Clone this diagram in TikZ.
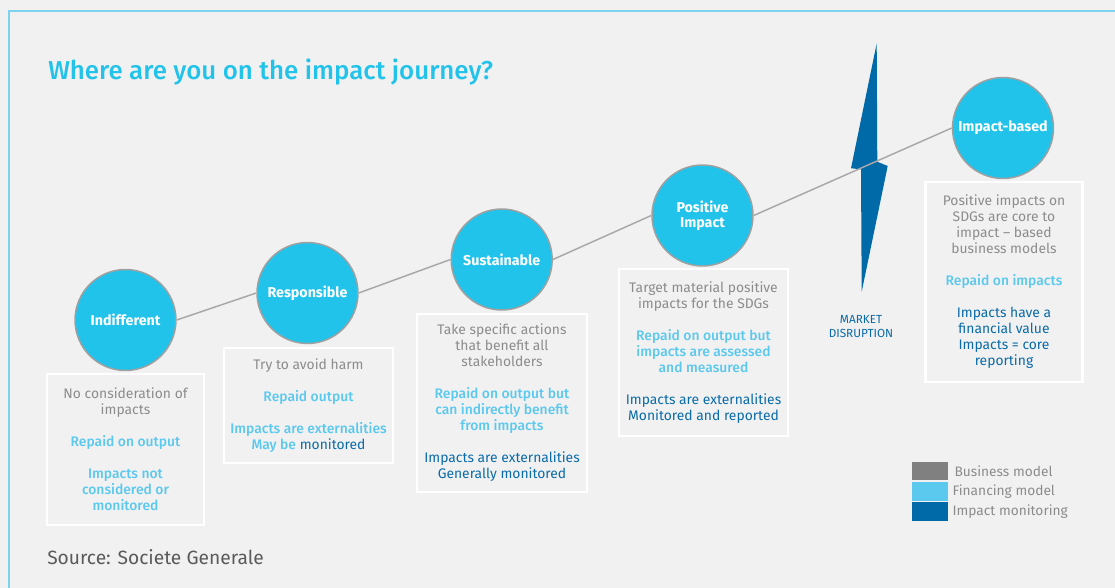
\documentclass[tikz,border=0pt]{standalone}
\usepackage{fontspec}
\setmainfont{Fira Sans}
\newfontfamily\medfont{Fira Sans Medium}
\usetikzlibrary{positioning,shapes.geometric}
\definecolor{bgcol}{HTML}{F1F1F1}
\definecolor{framecol}{HTML}{7DD3EE}
\definecolor{stagecol}{HTML}{22C3EA}
\definecolor{ringcol}{HTML}{A0A0A0}
\definecolor{linecol}{HTML}{A8A8A8}
\definecolor{bizcol}{HTML}{8C8C8C}
\definecolor{fincol}{HTML}{5BC8EE}
\definecolor{moncol}{HTML}{0A6BA8}
\definecolor{boltcol}{HTML}{006AA8}
\definecolor{srccol}{HTML}{5A5A5A}
\newcommand{\finc}[1]{\textcolor{fincol}{\medfont #1}}
\newcommand{\monc}[1]{\textcolor{moncol}{#1}}
\tikzstyle{stage} = [circle, minimum size=75.75pt, inner sep=0pt, draw=ringcol, line width=1.1pt, fill=stagecol, text=white, font=\fontsize{10.7}{11}\selectfont\bfseries, align=center]
\tikzstyle{infobox} = [rectangle, draw=white, line width=2pt, inner sep=0pt, text=bizcol, font=\fontsize{10.4}{12}\selectfont, align=center]
\tikzstyle{journey} = [draw=linecol, line width=1.1pt]
\tikzstyle{swatch} = [rectangle, minimum width=27pt, minimum height=14pt, inner sep=0pt]
\tikzstyle{legendtext} = [anchor=west, inner sep=0pt, text=bizcol, font=\fontsize{10.3}{11}\selectfont]
\begin{document}
\begin{tikzpicture}[x=0.75pt, y=-0.75pt]
\fill[bgcol] (0,0) rectangle (1115,588);
\useasboundingbox (0,0) rectangle (1115,588);
\draw[framecol, line width=1.2pt] (9,588) -- (9,11) -- (1115,11);

\node (title) [anchor=west, inner sep=0pt, text=stagecol, font=\fontsize{19.4}{20}\selectfont\medfont] at (48,72) {Where are you on the impact journey?};

% market disruption
\fill[boltcol] (876.7,43.3) -- (877.3,161.7) -- (887.7,166) -- (861.7,291.7) -- (861,169.3) -- (851,168.3) -- cycle;
\node (disrupt) [text=moncol, align=center, font=\fontsize{8.8}{11}\selectfont] at (861,326.5) {MARKET\\DISRUPTION};

\node (indiff) [stage] at (125.5,320) {Indifferent};
\node (resp) [stage] at (307.5,293) {Responsible};
\node (sust) [stage] at (501.7,259.5) {Sustainable};
\node (posit) [stage] at (702.5,215.5) {Positive\\Impact};
\node (based) [stage] at (1003,128) {Impact-based};

\draw [journey] (indiff.east) -- (resp.west);
\draw [journey] (resp.east) -- (sust.west);
\draw [journey] (sust.east) -- (posit.west);
\draw [journey] (posit.east) -- (based.west);

\node (box1) [infobox, minimum width=117.75pt, minimum height=113.25pt] at (125.5,449.5) {No consideration of\\impacts\\[12pt]\finc{Repaid on output}\\[12pt]\finc{Impacts not}\\\finc{considered or}\\\finc{monitored}};
\node (box2) [infobox, minimum width=126.75pt, minimum height=86.25pt] at (308.5,405.5) {Try to avoid harm\\[12pt]\finc{Repaid output}\\[12pt]\finc{Impacts are externalities}\\\finc{May be} \monc{monitored}};
\node (box3) [infobox, minimum width=127.5pt, minimum height=133.5pt] at (502,403) {Take specific actions\\that benefit all\\stakeholders\\[12pt]\finc{Repaid on output but}\\\finc{can indirectly benefit}\\\finc{from impacts}\\[12pt]\monc{Impacts are externalities}\\\monc{Generally monitored}};
\node (box4) [infobox, minimum width=126.75pt, minimum height=125.25pt] at (703.5,352.5) {Target material positive\\impacts for the SDGs\\[12pt]\finc{Repaid on output but}\\\finc{impacts are assessed}\\\finc{and measured}\\[12pt]\monc{Impacts are externalities}\\\monc{Monitored and reported}};
\node (box5) [infobox, minimum width=117.75pt, minimum height=150pt] at (1004,282) {Positive impacts on\\SDGs are core to\\impact -- based\\business models\\[12pt]\finc{Repaid on impacts}\\[12pt]\monc{Impacts have a}\\\monc{financial value}\\\monc{Impacts = core}\\\monc{reporting}};

% legend
\node (bizsw) [swatch, fill=gray] at (930,471) {};
\node (finsw) [swatch, fill=fincol, below=0.75pt of bizsw] {};
\node (monsw) [swatch, fill=boltcol, below=0.75pt of finsw] {};
\node (bizlab) [legendtext, right=4.5pt of bizsw] {Business model};
\node (finlab) [legendtext, right=3pt of finsw] {Financing model};
\node (monlab) [legendtext, right=3pt of monsw] {Impact monitoring};

\node (source) [anchor=west, inner sep=0pt, text=srccol, font=\fontsize{14.4}{16}\selectfont] at (47,557) {Source: Societe Generale};
\end{tikzpicture}
\end{document}
